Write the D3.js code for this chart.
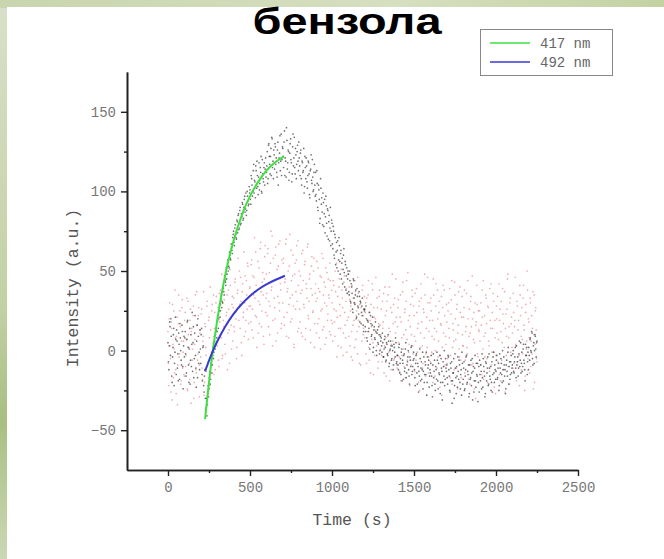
<!DOCTYPE html>
<html>
<head>
<meta charset="utf-8">
<script src="https://cdn.jsdelivr.net/npm/d3@7"></script>
<style>
  body { margin: 0; }
  svg { display: block; }
</style>
</head>
<body>
<div id="chart"></div>
<script>
// intensity readings every 5 s; the "b" arrays are the readings in between (offset 2.5 s)
const startTime = 0;
const timeStep = 5;
const offsetB = 2.5;

// 417 nm (black dots)
const black417 = [
  5,-12,18,-3,9,-20,2,14,-8,21,-15,6,-2,11,-18,8,-6,16,-10,3,
  -4,12,-16,7,19,-9,1,-21,10,4,-13,15,-5,22,-11,6,-17,9,-1,13,
  -8,14,-19,3,-26,-12,-38,-30,-34,-22,-24,-13,-18,-6,-9,2,-1,6,4,13,
  12,22,20,29,25,35,31,40,37,47,43,52,48,57,53,62,58,67,63,71,
  75,66,79,71,82,74,86,77,90,80,84,92,83,95,87,99,88,97,91,103,
  101,92,108,97,113,99,106,116,102,110,98,118,105,112,100,120,108,115,104,121,
  112,125,108,130,117,122,110,133,119,126,114,128,121,109,131,118,124,113,136,120,
  127,115,138,121,109,132,118,125,112,130,120,106,128,116,134,111,123,117,129,113,
  121,110,126,104,118,113,99,122,108,116,102,119,111,96,114,107,120,100,112,104,
  112,94,105,88,101,80,108,92,87,99,78,95,84,91,72,88,81,69,90,75,
  80,64,75,58,71,62,52,69,57,66,48,63,55,42,60,49,56,38,52,45,
  48,35,44,30,40,26,45,33,29,38,21,34,27,37,18,30,24,33,16,26,
  26,12,20,6,18,14,1,22,9,16,-1,13,8,18,0,11,5,15,-2,9,
  8,-1,5,-4,7,2,-6,4,-3,6,-8,1,3,-5,0,-9,2,-4,5,-7,
  -3,-12,4,-8,-15,1,-6,-18,-2,-11,5,-14,-7,0,-16,-4,-10,3,-13,-6,
  -5,-17,-8,-2,-21,-10,-13,1,-19,-7,-12,-24,-4,-15,-9,-1,-20,-11,-6,-16,
  -14,-3,-22,-9,-17,-6,-25,-12,-1,-19,-8,-15,-27,-5,-13,-20,-10,0,-18,-11,
  -9,-21,-4,-16,-26,-11,-7,-19,-14,-30,-2,-17,-10,-23,-13,-6,-20,-15,-28,-8,
  -18,-7,-24,-12,-3,-20,-15,-29,-9,-17,-22,-5,-13,-26,-11,-19,-8,-16,-32,-10,
  -6,-19,-13,-2,-23,-10,-16,-27,-8,-14,-4,-21,-11,-18,-25,-7,-15,-1,-20,-12,
  -13,-3,-17,-8,-22,-11,-5,-15,0,-19,-9,-12,-24,-6,-16,2,-10,-18,-7,-14,
  -9,0,-14,-4,-11,3,-7,-16,-2,-10,5,-8,-13,1,-6,-12,4,-3,-15,-1,
  2,-6,8,-1,11,-9,5,0,9,-4,6
];
const black417b = [
  -7,3,15,20,-16,-4,10,-22,-1,7,13,-11,-19,4,17,0,-9,12,-24,9,
  8,-2,-14,18,2,-20,14,-6,-10,24,5,-17,11,-3,-23,16,20,-8,-12,1,
  10,-15,2,-22,-16,-30,-36,-41,-27,-29,-17,-21,-8,-14,-3,-5,9,1,12,8,
  19,14,25,21,32,27,30,39,35,44,41,45,55,50,52,60,57,65,61,73,
  68,77,73,70,81,85,76,88,79,86,93,82,90,97,89,85,100,94,92,99,
  95,110,104,100,117,107,96,113,119,103,109,101,115,122,99,111,106,118,114,109,
  116,105,129,122,111,127,134,115,108,123,130,117,112,126,104,121,135,119,110,128,
  122,131,110,119,140,114,126,107,124,133,118,111,136,121,115,127,108,125,119,131,
  116,124,108,119,112,127,103,115,121,106,110,118,98,113,123,105,109,101,117,97,
  98,113,90,104,95,83,102,96,79,93,86,74,97,80,89,70,85,77,66,82,
  67,78,60,73,54,68,63,50,71,56,61,45,58,51,64,40,54,47,36,50,
  37,50,31,42,36,24,44,30,35,20,39,28,23,34,31,17,28,22,12,25,
  15,28,8,19,12,24,4,17,10,21,2,15,7,12,-3,13,4,10,0,6,
  3,11,-4,1,9,-7,5,-2,10,-10,0,6,-6,3,-12,4,-1,8,-8,-3,
  -9,2,-14,-5,-1,-19,-8,-3,-13,1,-17,-9,-4,-12,-21,-6,2,-15,-10,-1,
  -12,-22,-3,-14,-8,-26,-16,-5,-11,-18,-1,-13,-20,-7,-15,-28,-4,-9,-23,-12,
  -8,-16,-29,-2,-13,-21,-10,-18,-6,-24,-14,-3,-20,-11,-31,-7,-16,-22,-5,-13,
  -17,-3,-12,-25,-8,-19,-33,-14,-5,-22,-11,-27,-16,-4,-18,-9,-24,-12,-1,-21,
  -11,-25,-16,-4,-21,-13,-9,-27,-18,-6,-14,-31,-10,-19,-3,-23,-15,-8,-20,-26,
  -15,-9,-24,-17,-5,-13,-29,-7,-19,-11,-22,-2,-16,-10,-20,-26,-4,-14,-9,-18,
  -6,-18,-11,-25,-2,-14,-8,-20,-12,-4,-16,-27,-9,-13,-1,-21,-7,-15,-3,-11,
  -2,-13,-7,2,-17,-9,-4,-11,6,-6,-14,-1,-10,4,-8,-19,-3,2,-7,-12,
  -3,7,0,12,-5,3,-8,10,1,5
];

// 492 nm (red dots)
const red492 = [
  12,-22,30,-5,18,-31,4,25,-14,8,-27,21,-9,35,-2,15,-19,27,-11,6,
  -16,24,-3,33,-25,10,-8,19,-33,14,1,28,-20,7,-12,37,-6,22,-29,11,
  -4,26,-18,9,-28,17,2,-13,31,-7,21,-22,13,-1,29,5,-15,24,10,34,
  3,27,-10,18,38,8,-5,30,15,44,-2,22,35,11,26,-8,41,16,29,6,
  33,12,45,20,2,38,27,50,14,31,-3,42,24,9,47,19,35,55,7,28,
  40,18,57,26,8,46,33,62,21,38,11,52,29,68,15,43,35,4,59,24,
  48,22,64,31,10,55,38,72,19,44,27,60,6,51,34,67,25,42,14,57,
  30,58,16,45,70,24,39,8,53,33,63,20,47,28,2,55,37,66,12,41,
  50,18,36,61,9,44,27,56,14,39,65,22,31,48,5,53,35,25,58,17,
  42,11,33,52,20,37,1,46,26,58,15,30,40,8,49,23,35,12,44,19,
  30,6,41,18,50,25,-4,34,14,45,22,2,38,27,11,47,16,31,-1,36,
  21,40,3,28,12,-6,33,19,44,7,25,-2,36,15,29,-9,22,38,10,26,
  8,30,-8,19,35,2,24,-14,15,42,5,27,-3,20,11,33,-11,17,38,1,
  26,-7,14,36,3,22,-16,31,9,-1,40,12,-12,24,6,29,-5,18,45,-9,
  15,32,-4,21,-19,8,37,1,-10,26,13,44,-6,19,4,-22,29,10,34,-2,
  22,-13,6,39,-1,17,28,-25,11,33,3,-8,24,48,-16,14,2,30,-4,19,
  -7,25,9,-20,35,14,0,42,-11,20,6,31,-3,16,-28,27,11,38,-9,4,
  18,-5,30,8,-17,23,44,2,13,-12,35,7,26,-24,16,1,40,-6,21,10,
  3,27,-14,12,36,-2,20,9,-21,31,15,47,-8,24,5,-30,18,29,-4,13,
  25,-9,16,38,1,-18,22,11,33,-5,28,6,-13,19,42,-1,14,31,-23,8,
  -3,20,34,7,-15,26,12,-6,39,17,2,-26,23,9,45,-10,15,30,-1,21,
  11,36,-8,19,4,-19,28,13,-3,41,22,-12,7,33,16,-25,24,1,50,-5,
  18,-14,30,6,-2,37,10,-20,25,13,-7
];
const red492b = [
  -8,20,3,-26,14,29,-17,1,38,-12,9,-34,17,-4,25,-21,6,32,-1,-15,
  19,-10,7,-24,31,2,-18,26,12,-6,22,-30,4,35,-14,16,-2,27,-9,13,
  23,-11,6,37,-20,15,-3,28,-26,19,8,40,-9,25,0,35,14,-12,30,18,
  21,-6,36,9,29,48,-3,19,32,4,45,24,-12,38,13,51,20,1,34,27,
  15,43,24,-5,36,58,19,29,46,5,37,21,62,30,12,44,26,53,17,39,
  28,54,13,47,35,71,22,41,2,56,31,17,64,37,25,49,9,45,66,33,
  36,61,15,49,28,75,40,3,58,33,20,65,45,11,53,30,69,38,17,46,
  55,21,43,67,9,37,50,29,73,18,44,35,60,4,48,26,57,31,69,14,
  26,47,11,38,63,29,54,7,42,33,67,20,45,13,39,59,24,50,2,36,
  31,56,17,39,8,47,25,61,13,35,43,4,52,28,19,45,33,55,10,38,
  17,44,26,9,37,55,21,3,40,29,14,51,33,-3,43,24,8,39,19,48,
  9,32,25,-4,41,16,30,2,37,22,12,46,19,-8,31,27,6,41,14,34,
  24,-2,33,12,44,-6,19,29,7,38,-15,21,13,46,3,27,-7,34,16,10,
  -3,31,18,-14,40,8,25,-2,35,14,-19,27,4,48,17,-6,33,11,21,-11,
  27,5,-13,35,18,-3,43,10,24,-17,31,7,49,-1,22,15,-9,38,3,28,
  9,36,-6,24,14,-20,31,2,42,18,-11,26,8,35,-2,21,46,-14,12,30,
  33,-1,19,45,7,-16,28,12,38,-4,24,-23,17,34,2,41,-10,22,9,29,
  -8,25,14,39,-3,32,-21,17,6,43,20,-11,29,11,37,-4,24,-17,34,3,
  21,38,-6,15,2,44,-18,26,11,34,-9,20,7,-24,30,16,41,-2,25,12,
  6,30,-15,21,44,9,-4,35,17,-20,27,3,39,14,-9,24,36,-1,19,-27,
  28,11,-7,42,19,-19,31,5,23,-12,37,14,-3,26,48,8,-21,33,17,2,
  -11,24,15,46,3,31,-7,19,-22,35,9,27,-2,41,13,-16,29,6,38,20,
  8,33,-10,22,14,-24,35,4,27,-5
];

// fitted curves as [time, intensity]
const fit417 = [[226,-43],[260,-11],[300,19],[350,48],[400,69],[450,85],[500,97],[550,106],[600,113],[650,118],[707,122]];
const fit492 = [[226,-13],[260,-3.6],[300,5.7],[350,15.3],[400,23.1],[450,29.3],[500,34.3],[550,38.4],[600,41.6],[650,44.2],[713,47]];

const xTicks = [0, 500, 1000, 1500, 2000, 2500];
const xMinor = [250, 750, 1250, 1750, 2250];
const yTicks = [-50, 0, 50, 100, 150];
const yMinor = [-25, 25, 75, 125];

const legendItems = [
  { label: "417 nm", color: "#3ee03e" },
  { label: "492 nm", color: "#3a3ad0" }
];

const width = 664;
const height = 559;

const svg = d3.select("#chart")
  .append("svg")
  .attr("width", width)
  .attr("height", height);

// slide background
const defs = svg.append("defs");
const topGrad = defs.append("linearGradient").attr("id", "topGrad");
topGrad.append("stop").attr("offset", "0%").attr("stop-color", "#c9d5ae");
topGrad.append("stop").attr("offset", "60%").attr("stop-color", "#d6dfc0");
topGrad.append("stop").attr("offset", "100%").attr("stop-color", "#c4d2a2");
const leftGrad = defs.append("linearGradient").attr("id", "leftGrad")
  .attr("x1", 0).attr("y1", 0).attr("x2", 0).attr("y2", 1);
leftGrad.append("stop").attr("offset", "0%").attr("stop-color", "#d9e0c8");
leftGrad.append("stop").attr("offset", "55%").attr("stop-color", "#c2d1a4");
leftGrad.append("stop").attr("offset", "75%").attr("stop-color", "#a7bf82");
leftGrad.append("stop").attr("offset", "100%").attr("stop-color", "#cbd8b4");

svg.append("rect").attr("width", width).attr("height", height).attr("fill", "url(#leftGrad)");
svg.append("rect").attr("x", 0).attr("y", 0).attr("width", width).attr("height", 8).attr("fill", "url(#topGrad)");
svg.append("rect").attr("x", 7).attr("y", 7).attr("width", width - 7).attr("height", height - 7).attr("fill", "#fff");

// title (sits at the very top of the slide)
svg.append("text")
  .attr("x", 347)
  .attr("y", 34)
  .attr("text-anchor", "middle")
  .attr("font-family", "Liberation Sans, Arial, sans-serif")
  .attr("font-weight", "bold")
  .attr("font-size", 37)
  .attr("textLength", 189)
  .attr("lengthAdjust", "spacingAndGlyphs")
  .attr("fill", "#000")
  .text("бензола");

const x = d3.scaleLinear().domain([-250, 2500]).range([127, 578]);
const y = d3.scaleLinear().domain([-75, 175]).range([470, 72]);

const mono = "Liberation Mono, DejaVu Sans Mono, monospace";

// dots
const toPts = (arr, off) => arr.map((v, i) => [startTime + off + i * timeStep, v]);
const redPts = toPts(red492, 0).concat(toPts(red492b, offsetB));
const blackPts = toPts(black417, 0).concat(toPts(black417b, offsetB));

svg.append("g").selectAll("circle")
  .data(redPts)
  .enter().append("circle")
  .attr("cx", d => x(d[0]))
  .attr("cy", d => y(d[1]))
  .attr("r", 0.85)
  .attr("fill", "#e06a78")
  .attr("opacity", 0.55);

svg.append("g").selectAll("circle")
  .data(blackPts)
  .enter().append("circle")
  .attr("cx", d => x(d[0]))
  .attr("cy", d => y(d[1]))
  .attr("r", 0.85)
  .attr("fill", "#333")
  .attr("opacity", 0.7);

// fits
const line = d3.line()
  .x(d => x(d[0]))
  .y(d => y(d[1]))
  .curve(d3.curveNatural);

svg.append("path").datum(fit417)
  .attr("d", line).attr("fill", "none")
  .attr("stroke", legendItems[0].color).attr("stroke-width", 2);
svg.append("path").datum(fit492)
  .attr("d", line).attr("fill", "none")
  .attr("stroke", legendItems[1].color).attr("stroke-width", 2);

// axes
svg.append("g")
  .attr("transform", "translate(0,470)")
  .call(d3.axisBottom(x).tickValues(xTicks).tickFormat(d3.format("d"))
    .tickSize(6).tickPadding(6).tickSizeOuter(0));
svg.append("g")
  .attr("transform", "translate(0,470)")
  .call(d3.axisBottom(x).tickValues(xMinor).tickSize(3).tickFormat("").tickSizeOuter(0));

svg.append("g")
  .attr("transform", "translate(127,0)")
  .call(d3.axisLeft(y).tickValues(yTicks).tickFormat(d3.format("d"))
    .tickSize(6).tickPadding(5).tickSizeOuter(0));
svg.append("g")
  .attr("transform", "translate(127,0)")
  .call(d3.axisLeft(y).tickValues(yMinor).tickSize(3).tickFormat("").tickSizeOuter(0));

svg.selectAll(".domain").attr("stroke", "#222").attr("stroke-width", 1.6);
svg.selectAll(".tick line").attr("stroke", "#222").attr("stroke-width", 1.4);
svg.selectAll(".tick text")
  .attr("font-family", mono)
  .attr("font-size", 14)
  .attr("fill", "#777");

// axis titles
svg.append("text")
  .attr("x", 352)
  .attr("y", 525)
  .attr("text-anchor", "middle")
  .attr("font-family", mono)
  .attr("font-size", 16.5)
  .attr("fill", "#555")
  .text("Time (s)");

svg.append("text")
  .attr("transform", "translate(78,288) rotate(-90)")
  .attr("text-anchor", "middle")
  .attr("font-family", mono)
  .attr("font-size", 16.5)
  .attr("fill", "#555")
  .text("Intensity (a.u.)");

// legend
const legend = svg.append("g");
legend.append("rect")
  .attr("x", 480.5).attr("y", 29.5)
  .attr("width", 132).attr("height", 46)
  .attr("fill", "#fff")
  .attr("stroke", "#888");

legendItems.forEach((d, i) => {
  const ly = 43 + i * 19;
  legend.append("line")
    .attr("x1", 490).attr("x2", 530)
    .attr("y1", ly).attr("y2", ly)
    .attr("stroke", d.color).attr("stroke-width", 1.5);
  legend.append("text")
    .attr("x", 540).attr("y", ly + 5)
    .attr("font-family", mono)
    .attr("font-size", 14)
    .attr("fill", "#666")
    .text(d.label);
});
</script>
</body>
</html>
